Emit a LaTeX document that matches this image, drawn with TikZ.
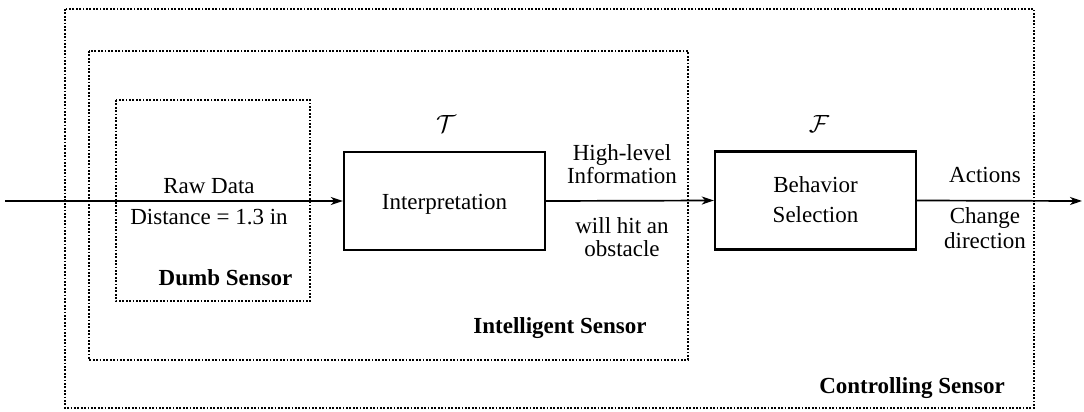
\documentclass[tikz,border=0pt]{standalone}
\usepackage{fontspec}
\setmainfont{Liberation Serif}
\usetikzlibrary{arrows.meta}
\begin{document}
\begin{tikzpicture}[x=1pt,y=-1pt,
  dotbox/.style={line width=1.8pt, dash pattern=on 1.8pt off 1.6pt},
  block/.style={draw, line width=2.4pt, minimum width=201pt, minimum height=98pt, inner sep=0pt},
  lbl/.style={font=\fontsize{23}{27}\selectfont, anchor=base, inner sep=0pt},
  blbl/.style={font=\fontsize{23}{27}\selectfont\bfseries, anchor=base, inner sep=0pt},
  arr/.style={line width=1.7pt, -{Stealth[length=12pt,width=8pt,inset=3.5pt]}}]
\useasboundingbox (0,0) rectangle (1084,412);
% dotted enclosures
\draw[dotbox] (65,9) rectangle (1034,408);
\draw[dotbox] (89,51) rectangle (688,360);
\draw[dotbox] (116,100) rectangle (310,301);
% blocks
\node[block] (interp) at (444.5,201) {};
\node[block] (behav) at (815.5,200.5) {};
% connectors
\coordinate (in) at (5,201);
\coordinate (out) at (1082,201);
\draw[arr] (in) -- (interp.west);
\draw[arr] (interp.east) -- (behav.west);
\draw[arr] (behav.east) -- (out);
% labels
\node[lbl] (raw) at (209,193) {Raw Data};
\node[lbl] (dist) at (209,224) {Distance = 1.3 in};
\node[blbl] (dumb) at (225.5,285) {Dumb Sensor};
\node[blbl] (intel) at (560,333) {Intelligent Sensor};
\node[blbl] (ctrl) at (912,393) {Controlling Sensor};
\node[lbl] (tlab) at (446,132) {\fontsize{26}{30}\selectfont$\mathcal{T}$};
\node[lbl] (flab) at (819,132) {\fontsize{26}{30}\selectfont$\mathcal{F}$};
\node[lbl] (interptext) at (444.5,209) {Interpretation};
\node[lbl] (behtext) at (815.5,192) {Behavior};
\node[lbl] (seltext) at (815.5,222) {Selection};
\node[lbl] (hl) at (622,160) {High-level};
\node[lbl] (info) at (622,183) {Information};
\node[lbl] (hit) at (622,233) {will hit an};
\node[lbl] (obst) at (622,256) {obstacle};
\node[lbl] (act) at (985,182) {Actions};
\node[lbl] (chg) at (985,223) {Change};
\node[lbl] (dir) at (985,248) {direction};
\end{tikzpicture}
\end{document}
